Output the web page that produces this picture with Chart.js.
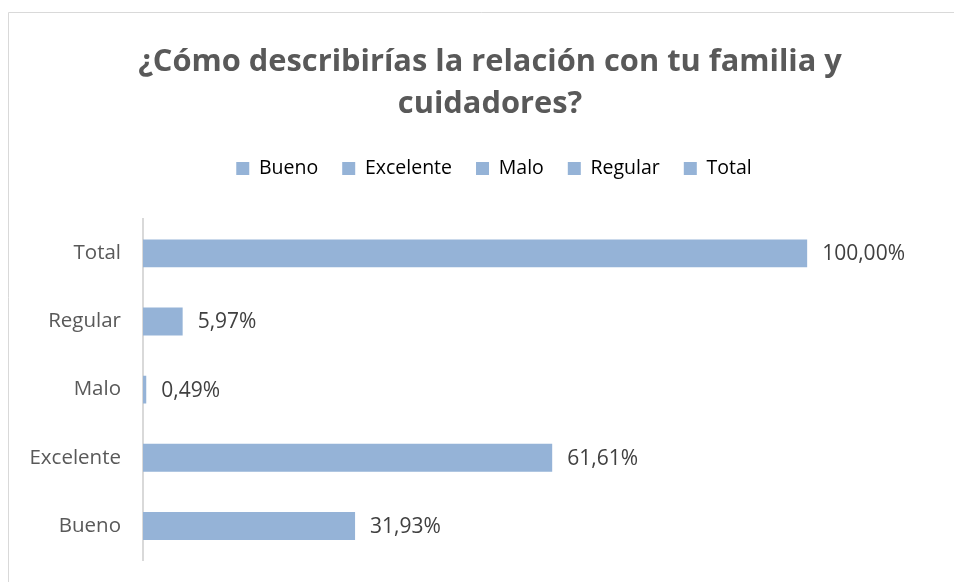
<!DOCTYPE html>
<html>
<head>
<meta charset="utf-8">
<script src="https://cdn.jsdelivr.net/npm/chart.js@4"></script>
<style>
  html, body { margin: 0; padding: 0; background: #fff; }
  #wrap { width: 954px; height: 582px; position: relative; }
</style>
</head>
<body>
<div id="wrap"><canvas id="relChart"></canvas></div>
<script>
// categories top to bottom as drawn
const categories = ['Total', 'Regular', 'Malo', 'Excelente', 'Bueno'];
const percentages = [1.0, 0.0597, 0.0049, 0.6161, 0.3193];
const legendNames = ['Bueno', 'Excelente', 'Malo', 'Regular', 'Total'];
const titleLines = ['¿Cómo describirías la relación con tu familia y', 'cuidadores?'];

const barColor = '#95B3D7';
const textGray = '#595959';
const fontFamily = '"Open Sans", "DejaVu Sans", sans-serif';

function fmtPct(v) {
  return (v * 100).toFixed(2).replace('.', ',') + '%';
}

// frame around the chart (top and left edges visible), plus layout tweaks
const framePlugin = {
  id: 'frame',
  afterInit(chart) {
    // extra gap under the legend
    const fit = chart.legend.fit;
    chart.legend.fit = function () {
      fit.call(this);
      this.height += 31;
    };
  },
  afterLayout(chart) {
    // the original frame is wider than the picture, so title and legend sit right of centre
    chart.titleBlock.left += 20;
    chart.titleBlock.right += 20;
    chart.legend.left += 24;
    chart.legend.right += 24;
  },
  beforeDraw(chart) {
    const c = chart.ctx;
    c.save();
    c.strokeStyle = '#d9d9d9';
    c.lineWidth = 1;
    c.beginPath();
    c.moveTo(8.5, chart.height);
    c.lineTo(8.5, 12.5);
    c.lineTo(chart.width, 12.5);
    c.stroke();
    c.restore();
  }
};

// value labels at the end of each bar
const valueLabels = {
  id: 'valueLabels',
  afterDatasetsDraw(chart) {
    const c = chart.ctx;
    const meta = chart.getDatasetMeta(0);
    c.save();
    c.font = '21px ' + fontFamily;
    c.fillStyle = '#404040';
    c.textBaseline = 'middle';
    c.textAlign = 'left';
    meta.data.forEach((bar, i) => {
      c.fillText(fmtPct(chart.data.datasets[0].data[i]), bar.x + 15, bar.y + 1);
    });
    c.restore();
  }
};

document.addEventListener("DOMContentLoaded", function () {
  const ctx = document.getElementById('relChart').getContext('2d');
  new Chart(ctx, {
    type: 'bar',
    data: {
      labels: categories,
      datasets: [{
        label: 'Porcentaje',
        data: percentages,
        backgroundColor: barColor,
        borderWidth: 0,
        barPercentage: 0.41,
        categoryPercentage: 1.0
      }]
    },
    options: {
      indexAxis: 'y',
      responsive: true,
      maintainAspectRatio: false,
      animation: false,
      layout: { padding: { left: 0, right: 14, top: 0, bottom: 22 } },
      plugins: {
        title: {
          display: true,
          text: titleLines,
          color: textGray,
          font: { family: fontFamily, size: 30.8, weight: 'bold', lineHeight: 1.36 },
          padding: { top: 41, bottom: 10 }
        },
        legend: {
          display: true,
          labels: {
            color: textGray,
            font: { family: fontFamily, size: 19.5 },
            boxWidth: 13,
            boxHeight: 13,
            padding: 24,
            generateLabels() {
              return legendNames.map((n) => ({
                text: n,
                fillStyle: barColor,
                strokeStyle: barColor,
                lineWidth: 0,
                hidden: false
              }));
            }
          },
          onClick: null
        },
        tooltip: { enabled: false }
      },
      scales: {
        x: {
          display: false,
          min: 0,
          max: 1.2
        },
        y: {
          afterFit(scale) {
            scale.width = 143;
            scale.paddingTop = 0;
            scale.paddingBottom = 0;
          },
          grid: { display: false, drawTicks: false },
          border: { display: true, color: '#d9d9d9', width: 2 },
          ticks: {
            color: textGray,
            font: { family: fontFamily, size: 20.5 },
            padding: 22
          }
        }
      }
    },
    plugins: [framePlugin, valueLabels]
  });
});
</script>
</body>
</html>
